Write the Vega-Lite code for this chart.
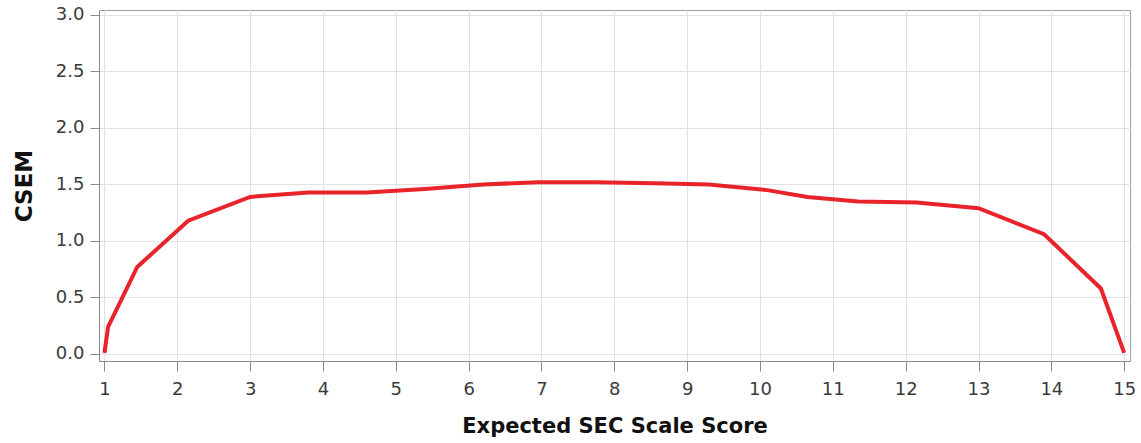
{
  "$schema": "https://vega.github.io/schema/vega-lite/v6.json",
  "width": 1031,
  "height": 351,
  "autosize": {"type": "none"},
  "padding": {"left": 99, "top": 10, "right": 11, "bottom": 82},
  "background": "#ffffff",
  "config": {
    "view": {"stroke": "#a0a0a0", "strokeWidth": 1},
    "font": "DejaVu Sans"
  },
  "data": {
    "values": [
      {"score": 1.0, "csem": 0.01},
      {"score": 1.05, "csem": 0.24},
      {"score": 1.45, "csem": 0.77},
      {"score": 2.15, "csem": 1.18},
      {"score": 3.0, "csem": 1.39},
      {"score": 3.8, "csem": 1.43},
      {"score": 4.6, "csem": 1.43},
      {"score": 5.4, "csem": 1.46},
      {"score": 6.2, "csem": 1.50},
      {"score": 6.95, "csem": 1.52},
      {"score": 7.75, "csem": 1.52},
      {"score": 8.55, "csem": 1.51},
      {"score": 9.3, "csem": 1.50},
      {"score": 10.1, "csem": 1.45},
      {"score": 10.65, "csem": 1.39},
      {"score": 11.35, "csem": 1.35},
      {"score": 12.15, "csem": 1.34},
      {"score": 13.0, "csem": 1.29},
      {"score": 13.9, "csem": 1.06},
      {"score": 14.68, "csem": 0.58},
      {"score": 15.0, "csem": 0.01}
    ]
  },
  "mark": {"type": "line", "color": "#e8232a", "strokeWidth": 4, "strokeJoin": "miter", "clip": true},
  "encoding": {
    "x": {
      "field": "score",
      "type": "quantitative",
      "scale": {"domain": [0.925, 15.08], "nice": false, "zero": false},
      "axis": {
        "title": "Expected SEC Scale Score",
        "values": [1,2,3,4,5,6,7,8,9,10,11,12,13,14,15],
        "format": "d",
        "grid": true,
        "gridColor": "#e2e2e2",
        "domainColor": "#8a8a8a",
        "tickColor": "#8a8a8a",
        "tickSize": 10,
        "labelFontSize": 18,
        "labelColor": "#3a3a3a",
        "labelPadding": 9,
        "titleFontSize": 21,
        "titleFontWeight": "bold",
        "titleColor": "#111111",
        "titlePadding": 17
      }
    },
    "y": {
      "field": "csem",
      "type": "quantitative",
      "scale": {"domain": [-0.062, 3.044], "nice": false, "zero": false},
      "axis": {
        "title": "CSEM",
        "values": [0, 0.5, 1, 1.5, 2, 2.5, 3],
        "format": ".1f",
        "grid": true,
        "gridColor": "#e2e2e2",
        "domainColor": "#8a8a8a",
        "tickColor": "#8a8a8a",
        "tickSize": 9,
        "labelFontSize": 18,
        "labelColor": "#3a3a3a",
        "labelPadding": 6,
        "titleFontSize": 23,
        "titleFontWeight": "bold",
        "titleColor": "#111111",
        "titlePadding": 19
      }
    }
  }
}
